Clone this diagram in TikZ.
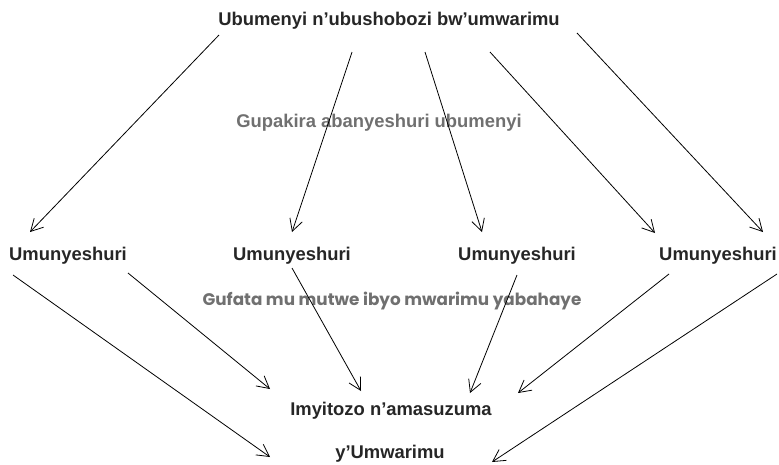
\documentclass[tikz,border=0pt]{standalone}
\usepackage{fontspec}
\setmainfont{Liberation Sans}
\newfontfamily\gufont{Poppins}
\usetikzlibrary{arrows.meta,calc}
\definecolor{txtgray}{HTML}{707070}
\begin{document}
\begin{tikzpicture}[x=1pt,y=-1pt,
  lbl/.style={inner sep=0pt,anchor=base,font=\fontsize{18.4}{20}\selectfont\bfseries,text=black!85},
  note/.style={inner sep=0pt,anchor=base,text=txtgray},
  arr/.style={line width=0.8pt,-{Straight Barb[length=12pt,width=13pt]}}]
\useasboundingbox (0,0) rectangle (779,464);
\node[lbl] (title) at (389,25) {Ubumenyi n’ubushobozi bw’umwarimu};
\node[note,font=\fontsize{18.4}{20}\selectfont\bfseries] (gup) at (379,127) {Gupakira abanyeshuri ubumenyi};
\node[lbl] (u1) at (68,260) {Umunyeshuri};
\node[lbl] (u2) at (292,260) {Umunyeshuri};
\node[lbl] (u3) at (517,260) {Umunyeshuri};
\node[lbl] (u4) at (718,260) {Umunyeshuri};
\node[note,font=\gufont\fontsize{16.8}{20}\selectfont\bfseries] (guf) at (392,305) {Gufata mu mutwe ibyo mwarimu yabahaye};
\node[lbl] (imy) at (391,415) {Imyitozo n’amasuzuma};
\node[lbl] (ywm) at (390,458) {y’Umwarimu};
% top arrows
\draw[arr] ([shift={(-170,10)}]title.base) -- ([shift={(-38,-28)}]u1.base);
\draw[arr] ([shift={(-37,27)}]title.base) -- ([shift={(0,-28)}]u2.base);
\draw[arr] ([shift={(36,27)}]title.base) -- ([shift={(-35,-28)}]u3.base);
\draw[arr] ([shift={(101,27)}]title.base) -- ([shift={(-63,-27)}]u4.base);
\draw[arr] ([shift={(188,8)}]title.base) -- ([shift={(45,-28)}]u4.base);
% bottom arrows
\draw[arr] ([shift={(-55,15)}]u1.base) -- ([shift={(-120,-1)}]ywm.base);
\draw[arr] ([shift={(60,13)}]u1.base) -- ([shift={(-121,-26)}]imy.base);
\draw[arr] ([shift={(0,8)}]u2.base) -- ([shift={(-30,-24)}]imy.base);
\draw[arr] ([shift={(0,15)}]u3.base) -- ([shift={(79,-22)}]imy.base);
\draw[arr] ([shift={(-49,14)}]u4.base) -- ([shift={(127,-22)}]imy.base);
\draw[arr] ([shift={(59,14)}]u4.base) -- ([shift={(102,4)}]ywm.base);
\end{tikzpicture}
\end{document}
